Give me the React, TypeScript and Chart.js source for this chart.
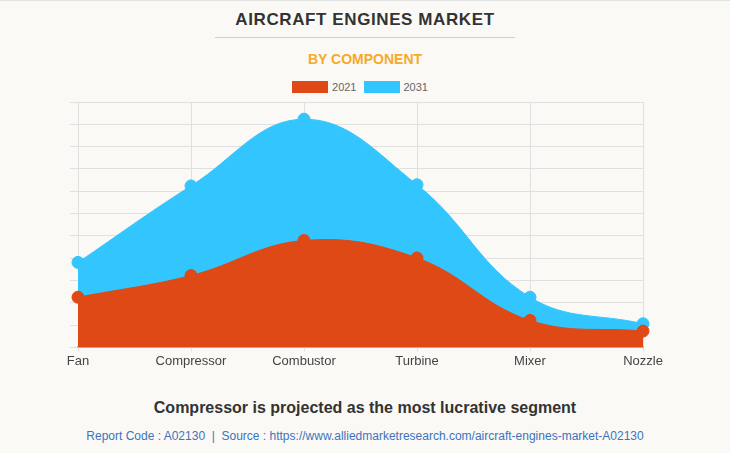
import React, { useEffect, useRef } from "react";
import { Chart, registerables } from "chart.js";

Chart.register(...registerables);

const categories = ["Fan", "Compressor", "Combustor", "Turbine", "Mixer", "Nozzle"];
const values2021 = [2.25, 3.22, 4.79, 4.01, 1.21, 0.73];
const values2031 = [3.81, 7.24, 10.23, 7.29, 2.25, 1.06];
const seriesNames = ["2021", "2031"];
const seriesColors = ["#DE4915", "#32C5FE"];

const FONT = "'Liberation Sans', Arial, sans-serif";

export default function App() {
  const ref = useRef<HTMLCanvasElement | null>(null);
  useEffect(() => {
    if (!ref.current) return;
    const chart = new Chart(ref.current, {
      type: "line",
      data: {
        labels: categories,
        datasets: [
          {
            label: seriesNames[0],
            data: values2021,
            backgroundColor: seriesColors[0],
            borderColor: seriesColors[0],
            pointBackgroundColor: seriesColors[0],
            pointBorderColor: seriesColors[0],
            fill: "origin",
            tension: 0.4,
            borderWidth: 1,
            pointRadius: 6,
          },
          {
            label: seriesNames[1],
            data: values2031,
            backgroundColor: seriesColors[1],
            borderColor: seriesColors[1],
            pointBackgroundColor: seriesColors[1],
            pointBorderColor: seriesColors[1],
            fill: "origin",
            tension: 0.4,
            borderWidth: 1,
            pointRadius: 6,
          },
        ],
      },
      options: {
        animation: false,
        responsive: false,
        maintainAspectRatio: false,
        layout: { padding: { left: 70, right: 87, top: 11, bottom: 0 } },
        plugins: {
          legend: { display: false },
          tooltip: { enabled: false },
          title: { display: false },
        },
        scales: {
          x: {
            offset: false,
            grid: { color: "#e0e0e0", tickLength: 4 },
            border: { color: "#b8b8b8", width: 2 },
            ticks: { color: "#444", font: { family: FONT, size: 13 }, padding: 2, maxRotation: 0 },
          },
          y: {
            min: 0,
            max: 11,
            ticks: { display: false, stepSize: 1 },
            grid: { color: "#e0e0e0", tickLength: 8 },
            border: { color: "#e0e0e0" },
          },
        },
      },
    });
    return () => chart.destroy();
  }, []);

  return (
    <div
      style={{
        position: "fixed",
        left: 0,
        top: 0,
        width: 730,
        height: 453,
        background: "#faf9f5",
        fontFamily: FONT,
        overflow: "hidden",
        boxSizing: "border-box",
        borderTop: "1px solid #e3e3e3",
      }}
    >
      <div
        style={{
          position: "absolute",
          top: 9,
          left: 0,
          width: 730,
          textAlign: "center",
          fontWeight: "bold",
          fontSize: 17,
          letterSpacing: 0.6,
          color: "#333",
        }}
      >
        AIRCRAFT ENGINES MARKET
      </div>
      <div style={{ position: "absolute", top: 36, left: 215, width: 300, height: 1, background: "#cfcfcf" }} />
      <div
        style={{
          position: "absolute",
          top: 50,
          left: 0,
          width: 730,
          textAlign: "center",
          fontWeight: "bold",
          fontSize: 14,
          color: "#f7a928",
        }}
      >
        BY COMPONENT
      </div>
      <div
        style={{
          position: "absolute",
          top: 80,
          left: 0,
          width: 720,
          display: "flex",
          justifyContent: "center",
          alignItems: "center",
          fontSize: 11,
          color: "#666",
        }}
      >
        {seriesNames.map((n, i) => (
          <div key={n} style={{ display: "flex", alignItems: "center", marginLeft: i ? 7 : 0 }}>
            <span style={{ display: "inline-block", width: 36, height: 12, background: seriesColors[i], marginRight: 4 }} />
            <span>{n}</span>
          </div>
        ))}
      </div>
      <canvas ref={ref} width={730} height={280} style={{ position: "absolute", left: 0, top: 90, width: 730, height: 280 }} />
      <div
        style={{
          position: "absolute",
          top: 398,
          left: 0,
          width: 730,
          textAlign: "center",
          fontWeight: "bold",
          fontSize: 16,
          color: "#333",
        }}
      >
        Compressor is projected as the most lucrative segment
      </div>
      <div
        style={{
          position: "absolute",
          top: 428,
          left: 0,
          width: 730,
          textAlign: "center",
          fontSize: 12,
          color: "#3a74bd",
        }}
      >
        Report Code : A02130 &nbsp;|&nbsp; Source : https://www.alliedmarketresearch.com/aircraft-engines-market-A02130
      </div>
    </div>
  );
}
